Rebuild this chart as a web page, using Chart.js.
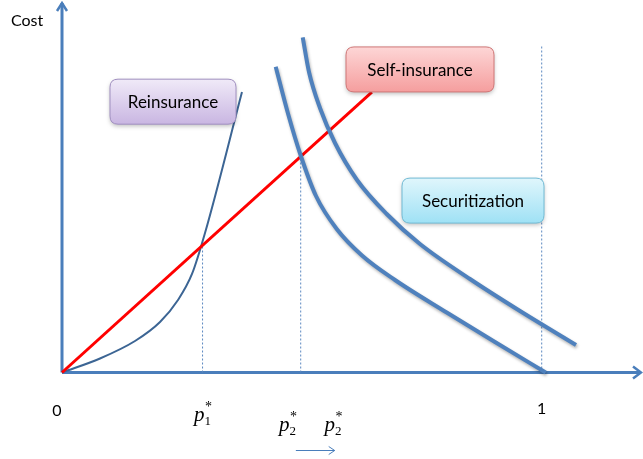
<!DOCTYPE html>
<html>
<head>
<meta charset="utf-8">
<script src="https://cdn.jsdelivr.net/npm/chart.js@4.4.0/dist/chart.umd.min.js"></script>
<style>
  html, body { margin: 0; padding: 0; background: #fff; }
  #wrap { width: 643px; height: 459px; }
</style>
</head>
<body>
<div id="wrap"><canvas id="chart" width="643" height="459"></canvas></div>
<script>
// x: share of risk (0..1), y: cost (arbitrary units 0..10)
const reinsuranceX = [0, 0.0792, 0.1522, 0.2043, 0.2418, 0.2710, 0.2981, 0.3752];
const reinsuranceY = [0, 0.378, 0.850, 1.363, 1.957, 2.659, 3.765, 7.571];

const selfInsuranceX = [0, 0.646];
const selfInsuranceY = [0, 7.57];

const securitizationX = [0.4455, 0.4711, 0.4976, 0.5295, 0.5727, 0.6254, 0.6942, 0.8020, 0.9026, 1.0083];
const securitizationY = [8.254, 6.991, 5.857, 4.764, 3.873, 3.158, 2.497, 1.619, 0.823, 0];

const securitization2X = [0.5018, 0.5149, 0.5378, 0.5691, 0.6150, 0.6769, 0.7463, 0.8505, 0.9548, 1.0715];
const securitization2Y = [9.047, 8.111, 7.139, 6.194, 5.196, 4.278, 3.468, 2.524, 1.660, 0.742];

// dashed guide lines
const guideX = [0.293, 0.4976, 1];
const guideTop = [3.44, 5.84, 8.84];

// x axis labels
const tickValues = [0, 0.293, 0.47, 0.565, 1];
const tickMain = ['0', 'p', 'p', 'p', '1'];
const tickSub = ['', '1', '2', '2', ''];
const tickSup = ['', '*', '*', '*', ''];

// label boxes
const boxLabels = ['Reinsurance', 'Self-insurance', 'Securitization'];
const boxX = [0.2314, 0.7463, 0.8568];
const boxY = [7.31, 8.18, 4.64];

const axisColor = '#4a7ebb';
const toPoints = (xs, ys) => xs.map((x, i) => ({ x: x, y: ys[i] }));

const boxStyles = [
    { w: 126, h: 45, top: '#f0eaf8', bottom: '#c9b6e2', border: '#a08fc0' },
    { w: 148, h: 45, top: '#fdd6d6', bottom: '#f59e9e', border: '#cf7676' },
    { w: 142, h: 45, top: '#e0f6fc', bottom: '#9fe1f5', border: '#70bad4' }
];

function roundRect(c, x, y, w, h, r) {
    c.beginPath();
    c.moveTo(x + r, y);
    c.lineTo(x + w - r, y);
    c.quadraticCurveTo(x + w, y, x + w, y + r);
    c.lineTo(x + w, y + h - r);
    c.quadraticCurveTo(x + w, y + h, x + w - r, y + h);
    c.lineTo(x + r, y + h);
    c.quadraticCurveTo(x, y + h, x, y + h - r);
    c.lineTo(x, y + r);
    c.quadraticCurveTo(x, y, x + r, y);
    c.closePath();
}

const diagram = {
    id: 'diagram',
    beforeDatasetsDraw(chart) {
        const c = chart.ctx;
        const xs = chart.scales.x, ys = chart.scales.y;
        const area = chart.chartArea;
        const x0 = xs.getPixelForValue(0), y0 = ys.getPixelForValue(0);
        c.save();
        c.strokeStyle = axisColor;
        c.lineWidth = 3;
        c.beginPath();
        c.moveTo(x0, y0);
        c.lineTo(x0, area.top + 1);
        c.moveTo(x0, y0);
        c.lineTo(area.right, y0);
        c.stroke();
        c.lineWidth = 2.5;
        c.beginPath();
        c.moveTo(x0 - 5, area.top + 9);
        c.lineTo(x0, area.top + 1);
        c.lineTo(x0 + 5, area.top + 9);
        c.moveTo(area.right - 8, y0 - 6);
        c.lineTo(area.right, y0);
        c.lineTo(area.right - 8, y0 + 6);
        c.stroke();
        c.restore();
    },
    beforeDatasetDraw(chart, args) {
        const c = chart.ctx;
        c.save();
        if (args.meta._dataset.shadow) {
            c.shadowColor = 'rgba(0,0,0,0.3)';
            c.shadowBlur = 3;
            c.shadowOffsetX = 1;
            c.shadowOffsetY = 2;
        }
    },
    afterDatasetDraw(chart) {
        chart.ctx.restore();
    },
    afterDatasetsDraw(chart) {
        const c = chart.ctx;
        const xs = chart.scales.x, ys = chart.scales.y;
        const y0 = ys.getPixelForValue(0);

        // boxes
        boxLabels.forEach((label, i) => {
            const s = boxStyles[i];
            const cx = xs.getPixelForValue(boxX[i]);
            const cy = ys.getPixelForValue(boxY[i]);
            const bx = cx - s.w / 2, by = cy - s.h / 2;
            c.save();
            const g = c.createLinearGradient(0, by, 0, by + s.h);
            g.addColorStop(0, s.top);
            g.addColorStop(1, s.bottom);
            c.shadowColor = 'rgba(0,0,0,0.25)';
            c.shadowBlur = 4;
            c.shadowOffsetY = 2;
            roundRect(c, bx, by, s.w, s.h, 8);
            c.fillStyle = g;
            c.fill();
            c.shadowColor = 'transparent';
            c.strokeStyle = s.border;
            c.lineWidth = 1;
            c.stroke();
            c.fillStyle = '#000';
            c.font = '17px Lato';
            c.textAlign = 'center';
            c.textBaseline = 'middle';
            c.fillText(label, cx, cy + 1);
            c.restore();
        });

        c.save();
        c.fillStyle = '#000';
        // y axis title
        c.font = '16px Lato';
        c.textAlign = 'left';
        c.textBaseline = 'alphabetic';
        c.fillText('Cost', 11, 26);

        // x tick labels
        const baseY = [y0 + 43, y0 + 48, y0 + 58, y0 + 58, y0 + 41];
        const nudge = [-5, 0, 0, 0, 0];
        tickValues.forEach((v, i) => {
            const px = xs.getPixelForValue(v) + nudge[i];
            if (!tickSub[i]) {
                c.font = '16px Lato';
                c.textAlign = 'center';
                c.textBaseline = 'alphabetic';
                c.fillText(tickMain[i], px, baseY[i]);
                return;
            }
            c.font = 'italic 21px "Liberation Serif"';
            const pw = c.measureText(tickMain[i]).width;
            c.font = '13px "Liberation Serif"';
            const sw = c.measureText(tickSub[i]).width;
            const left = px - (pw + sw) / 2;
            c.textAlign = 'left';
            c.textBaseline = 'alphabetic';
            c.font = 'italic 21px "Liberation Serif"';
            c.fillText(tickMain[i], left, baseY[i]);
            c.font = '13px "Liberation Serif"';
            c.fillText(tickSub[i], left + pw, baseY[i] + 4);
            c.font = '14px "Liberation Serif"';
            c.fillText(tickSup[i], left + pw + 0.5, baseY[i] - 10);
        });

        // small shift arrow under the p2 labels
        const ax1 = xs.getPixelForValue(0.4875), ax2 = xs.getPixelForValue(0.5685);
        const ay = y0 + 78;
        c.strokeStyle = axisColor;
        c.lineWidth = 1;
        c.beginPath();
        c.moveTo(ax1, ay);
        c.lineTo(ax2, ay);
        c.moveTo(ax2 - 6, ay - 4);
        c.lineTo(ax2, ay);
        c.lineTo(ax2 - 6, ay + 4);
        c.stroke();
        c.restore();
    }
};

const curve = {
    showLine: true,
    pointRadius: 0,
    fill: false,
    clip: false,
    cubicInterpolationMode: 'monotone'
};
const straight = {
    showLine: true,
    pointRadius: 0,
    fill: false,
    clip: false
};

const guideSets = guideX.map((gx, i) => Object.assign({}, straight, {
    label: 'guide ' + (i + 1),
    data: [{ x: gx, y: 0 }, { x: gx, y: guideTop[i] }],
    borderColor: '#5b88c0',
    borderWidth: 1,
    borderDash: [2, 2],
    order: 10 + i
}));

const ctx = document.getElementById('chart').getContext('2d');
const chart = new Chart(ctx, {
    type: 'scatter',
    data: {
        datasets: [
            Object.assign({}, curve, {
                label: 'Securitization (shifted)',
                data: toPoints(securitization2X, securitization2Y),
                borderColor: '#4f81bd',
                borderWidth: 4,
                shadow: true,
                order: 1
            }),
            Object.assign({}, curve, {
                label: 'Securitization',
                data: toPoints(securitizationX, securitizationY),
                borderColor: '#4f81bd',
                borderWidth: 4,
                shadow: true,
                order: 2
            }),
            Object.assign({}, straight, {
                label: 'Self-insurance',
                data: toPoints(selfInsuranceX, selfInsuranceY),
                borderColor: '#ff0000',
                borderWidth: 3,
                order: 3
            }),
            Object.assign({}, curve, {
                label: 'Reinsurance',
                data: toPoints(reinsuranceX, reinsuranceY),
                borderColor: '#3c6594',
                borderWidth: 2,
                order: 4
            })
        ].concat(guideSets)
    },
    options: {
        responsive: false,
        animation: false,
        events: [],
        layout: { padding: { left: 62, right: 2, top: 2, bottom: 86.5 } },
        scales: {
            x: { type: 'linear', display: false, min: 0, max: 1.207 },
            y: { type: 'linear', display: false, min: 0, max: 10 }
        },
        plugins: {
            legend: { display: false },
            tooltip: { enabled: false }
        }
    },
    plugins: [diagram]
});
</script>
</body>
</html>
